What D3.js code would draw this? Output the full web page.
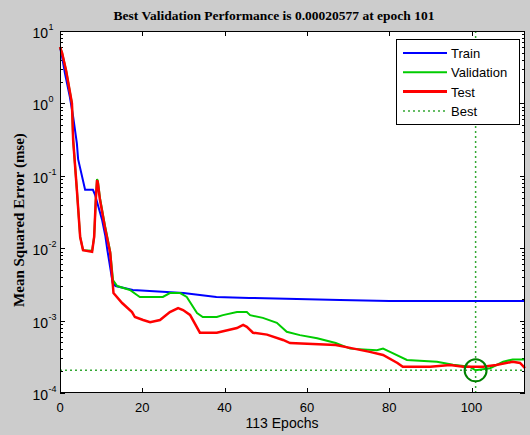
<!DOCTYPE html>
<html>
<head>
<meta charset="utf-8">
<script src="https://cdn.jsdelivr.net/npm/d3@7"></script>
<style>
  body { margin: 0; background: #cccccc; }
  svg { display: block; }
</style>
</head>
<body>
<div class="Perf"></div>
<script>
// values (epoch, mse)
var trainEpochs = [0, 0.5, 1.2, 2.4, 3.2, 4.1, 4.4, 6.1, 8, 8.5, 10.2, 11, 11.5, 12.3, 12.8, 13.5, 17.7, 30, 38, 46, 55, 68, 80, 113];
var trainMse = [6.0, 4.4, 2.6, 1.22, 0.65, 0.28, 0.17, 0.064, 0.064, 0.055, 0.025, 0.015, 0.0095, 0.005, 0.0033, 0.003, 0.00265, 0.0024, 0.00212, 0.00206, 0.002, 0.00192, 0.00186, 0.00186];

var valEpochs = [0, 0.5, 1.5, 2.9, 3.2, 4.1, 4.9, 5.6, 7.8, 8.3, 8.7, 9, 9.2, 9.7, 10.9, 12.2, 12.9, 13.9, 17, 18.7, 19.4, 25, 26.7, 29.2, 30.8, 33.3, 34.7, 38.1, 39.6, 43, 45.4, 46.2, 49.3, 52.7, 55.1, 58.3, 62.5, 67, 70.5, 77, 78.5, 80.2, 84.3, 91.6, 95.5, 99.6, 101, 104.5, 107.7, 110, 113];
var valMse = [6.0, 5.0, 2.8, 1.0, 0.31, 0.064, 0.0143, 0.0094, 0.0092, 0.0143, 0.047, 0.09, 0.085, 0.05, 0.021, 0.009, 0.0036, 0.003, 0.00265, 0.00226, 0.00212, 0.00212, 0.0024, 0.0024, 0.00212, 0.00127, 0.00112, 0.00112, 0.00119, 0.00131, 0.00131, 0.00119, 0.00109, 0.00093, 0.0007, 0.00063, 0.00057, 0.00049, 0.00041, 0.00039, 0.00041, 0.00037, 0.000286, 0.00027, 0.000245, 0.00023, 0.00020577, 0.00022, 0.00027, 0.00029, 0.00029];

var testEpochs = [0, 0.5, 1.5, 2.9, 3.2, 4.1, 4.9, 5.6, 7.8, 8.3, 8.7, 9, 9.2, 9.7, 10.9, 12.2, 13, 15.1, 17.5, 18.2, 20.2, 21.9, 24.3, 26.7, 28.7, 29.9, 31.6, 34, 38.1, 43, 44.5, 45.4, 46.9, 50.3, 54.2, 55.9, 67, 70.5, 75.3, 78.5, 82, 83.3, 90, 94.8, 98, 102.8, 106, 110, 111.8, 113];
var testMse = [6.0, 5.0, 2.8, 1.0, 0.31, 0.064, 0.0143, 0.0094, 0.0089, 0.0143, 0.047, 0.087, 0.08, 0.047, 0.0196, 0.0086, 0.0024, 0.00175, 0.00131, 0.00112, 0.00102, 0.00095, 0.00102, 0.00131, 0.00149, 0.0014, 0.0012, 0.00068, 0.00068, 0.00079, 0.00087, 0.00082, 0.00068, 0.00064, 0.00054, 0.00049, 0.00046, 0.00042, 0.00037, 0.000335, 0.00026, 0.00023, 0.00023, 0.000244, 0.00023, 0.00023, 0.000244, 0.00027, 0.00026, 0.00022];

var bestEpoch = 101, bestPerf = 0.00020577;
var xTicks = [0, 20, 40, 60, 80, 100];
var yDecades = [-4, -3, -2, -1, 0, 1];
var legendNames = ["Train", "Validation", "Test", "Best"];

var width = 530, height = 435;
var plotLeft = 60, plotRight = 525, plotTop = 31, plotBottom = 393;

var x = d3.scaleLinear().domain([0, 113]).range([plotLeft, plotRight]);
var y = d3.scaleLog().domain([1e-4, 10]).range([plotBottom, plotTop]);

var svg = d3.select(".Perf").append("svg")
	.attr("width", width)
	.attr("height", height)
	.style("background", "#cccccc");

svg.append("rect")
	.attr("x", plotLeft).attr("y", plotTop)
	.attr("width", plotRight - plotLeft).attr("height", plotBottom - plotTop)
	.attr("fill", "#fff");

// ticks, inward on all four sides
var tickG = svg.append("g").attr("stroke", "#000").attr("stroke-width", 1);
xTicks.forEach(function(t) {
	var xx = Math.round(x(t)) + 0.5;
	tickG.append("line").attr("x1", xx).attr("x2", xx).attr("y1", plotBottom).attr("y2", plotBottom - 5);
	tickG.append("line").attr("x1", xx).attr("x2", xx).attr("y1", plotTop).attr("y2", plotTop + 5);
});
y.ticks().forEach(function(t) {
	var major = Math.abs(Math.log10(t) - Math.round(Math.log10(t))) < 1e-9;
	var len = major ? 5 : 3;
	var yy = Math.round(y(t)) + 0.5;
	tickG.append("line").attr("x1", plotLeft).attr("x2", plotLeft + len).attr("y1", yy).attr("y2", yy);
	tickG.append("line").attr("x1", plotRight).attr("x2", plotRight - len).attr("y1", yy).attr("y2", yy);
});

// x labels
svg.append("g").selectAll("text")
	.data(xTicks).enter().append("text")
	.attr("x", function(d) { return x(d); })
	.attr("y", 412)
	.attr("text-anchor", "middle")
	.style("font", "13px 'Liberation Sans', Arial, sans-serif")
	.text(function(d) { return d; });

// y labels with superscript
svg.append("g").selectAll("text")
	.data(yDecades).enter().append("text")
	.attr("x", 48)
	.attr("y", function(d) { return y(Math.pow(10, d)) + 7; })
	.attr("text-anchor", "end")
	.style("font", "14px 'Liberation Sans', Arial, sans-serif")
	.text("10");
svg.append("g").selectAll("text")
	.data(yDecades).enter().append("text")
	.attr("x", 48.5)
	.attr("y", function(d) { return y(Math.pow(10, d)) - 1; })
	.style("font", "9px 'Liberation Sans', Arial, sans-serif")
	.text(function(d) { return d; });

// best lines
var bestColor = "#33a833";
svg.append("line")
	.attr("x1", plotLeft).attr("x2", plotRight)
	.attr("y1", y(bestPerf)).attr("y2", y(bestPerf))
	.attr("stroke", bestColor).attr("stroke-width", 1.5).attr("stroke-dasharray", "2,3");
svg.append("line")
	.attr("x1", x(bestEpoch)).attr("x2", x(bestEpoch))
	.attr("y1", plotTop).attr("y2", plotBottom)
	.attr("stroke", bestColor).attr("stroke-width", 1.5).attr("stroke-dasharray", "2,3");

var line = d3.line()
	.x(function(d) { return x(d[0]); })
	.y(function(d) { return y(d[1]); });

function pairs(es, vs) { return es.map(function(e, i) { return [e, vs[i]]; }); }

svg.append("path").datum(pairs(trainEpochs, trainMse))
	.attr("d", line).attr("fill", "none").attr("stroke", "#0000ff").attr("stroke-width", 2);
svg.append("path").datum(pairs(valEpochs, valMse))
	.attr("d", line).attr("fill", "none").attr("stroke", "#00cc00").attr("stroke-width", 2);
svg.append("path").datum(pairs(testEpochs, testMse))
	.attr("d", line).attr("fill", "none").attr("stroke", "#ff0000").attr("stroke-width", 2.5);

svg.append("circle")
	.attr("cx", x(bestEpoch)).attr("cy", y(bestPerf)).attr("r", 11)
	.attr("fill", "none").attr("stroke", "#008000").attr("stroke-width", 2);

// frame
svg.append("rect")
	.attr("x", plotLeft + 0.5).attr("y", plotTop + 0.5)
	.attr("width", plotRight - plotLeft - 1).attr("height", plotBottom - plotTop - 1)
	.attr("fill", "none").attr("stroke", "#000");

// legend
var lg = svg.append("g");
lg.append("rect")
	.attr("x", 396.5).attr("y", 39.5).attr("width", 123).attr("height", 85)
	.attr("fill", "#fff").attr("stroke", "#000");
var lgColors = ["#0000ff", "#00cc00", "#ff0000", bestColor];
var lgWidths = [2, 2, 3, 1.5];
legendNames.forEach(function(name, i) {
	var ly = 53 + i * 19.3;
	lg.append("line")
		.attr("x1", 403).attr("x2", 447).attr("y1", ly).attr("y2", ly)
		.attr("stroke", lgColors[i]).attr("stroke-width", lgWidths[i])
		.attr("stroke-dasharray", name === "Best" ? "2,3" : null);
	lg.append("text")
		.attr("x", 451).attr("y", ly + 5)
		.style("font", "13px 'Liberation Sans', Arial, sans-serif")
		.text(name);
});

// titles
svg.append("text")
	.attr("x", 274).attr("y", 20)
	.attr("text-anchor", "middle")
	.style("font", "bold 13.5px 'Liberation Serif', 'Times New Roman', serif")
	.text("Best Validation Performance is 0.00020577 at epoch 101");
svg.append("text")
	.attr("transform", "translate(24,220) rotate(-90)")
	.attr("text-anchor", "middle")
	.style("font", "bold 15px 'Liberation Serif', 'Times New Roman', serif")
	.text("Mean Squared Error (mse)");
svg.append("text")
	.attr("x", 282).attr("y", 428)
	.attr("text-anchor", "middle")
	.style("font", "14px 'Liberation Sans', Arial, sans-serif")
	.text("113 Epochs");
</script>
</body>
</html>
